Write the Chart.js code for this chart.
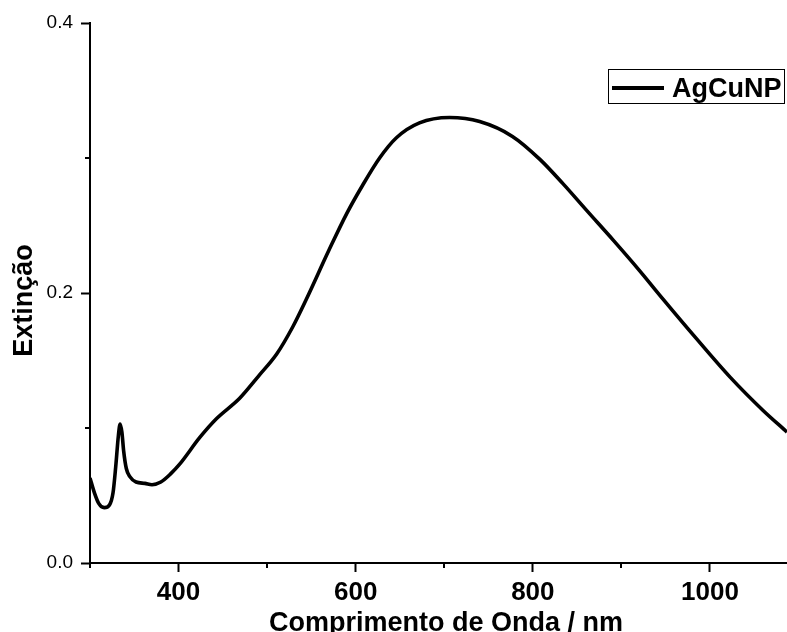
<!DOCTYPE html>
<html>
<head>
<meta charset="utf-8">
<script src="https://cdn.jsdelivr.net/npm/chart.js@4.4.1/dist/chart.umd.min.js"></script>
<style>
  html, body { margin: 0; padding: 0; background: #fff; }
  #wrap { width: 787px; height: 632px; }
</style>
</head>
<body>
<div id="wrap"><canvas id="c" width="787" height="632"></canvas></div>
<script>
// ---- data ----
const seriesLabel = 'AgCuNP';
const wavelength = [300, 305, 310, 316, 322, 326, 329, 332, 334, 336, 338, 341, 345, 352, 362, 370, 380, 391, 401, 424, 443, 469, 491, 511, 529, 544, 570, 590, 608, 627, 646, 672, 706, 740, 777, 808, 834, 861, 891, 920, 947, 985, 1023, 1060, 1087];
const extinction = [0.063, 0.052, 0.044, 0.041, 0.043, 0.052, 0.071, 0.094, 0.103, 0.097, 0.083, 0.070, 0.064, 0.060, 0.059, 0.058, 0.060, 0.066, 0.073, 0.093, 0.107, 0.122, 0.139, 0.155, 0.175, 0.195, 0.232, 0.259, 0.280, 0.300, 0.315, 0.326, 0.330, 0.327, 0.316, 0.299, 0.281, 0.261, 0.239, 0.217, 0.1955, 0.166, 0.1375, 0.113, 0.097];
const xMajorTicks = [400, 600, 800, 1000];
const xMinorTicks = [300, 500, 700, 900];
const yMajorTicks = [0.0, 0.2, 0.4];
const yMinorTicks = [0.1, 0.3];

const FONT = "'Liberation Sans', Arial, Helvetica, sans-serif";

const minorTicksPlugin = {
  id: 'minorTicks',
  afterDraw(chart) {
    const ctx = chart.ctx;
    const xs = chart.scales.x, ys = chart.scales.y;
    ctx.save();
    ctx.strokeStyle = '#000';
    ctx.lineWidth = 2;
    ctx.beginPath();
    xMinorTicks.forEach(v => {
      const px = Math.round(xs.getPixelForValue(v));
      ctx.moveTo(px, xs.top);
      ctx.lineTo(px, xs.top + 5);
    });
    yMinorTicks.forEach(v => {
      const py = Math.round(ys.getPixelForValue(v));
      ctx.moveTo(ys.right, py);
      ctx.lineTo(ys.right - 5, py);
    });
    ctx.stroke();
    ctx.restore();
  }
};

const legendBoxPlugin = {
  id: 'legendBox',
  afterDraw(chart) {
    const ctx = chart.ctx;
    const ds = chart.data.datasets[0];
    const ca = chart.chartArea;
    const boxRight = ca.right - 3, boxTop = ca.top + 46;
    const boxW = 176, boxH = 34;
    ctx.save();
    ctx.strokeStyle = '#000';
    ctx.lineWidth = 1;
    ctx.strokeRect(boxRight - boxW + 0.5, boxTop + 0.5, boxW, boxH);
    ctx.strokeStyle = ds.borderColor;
    ctx.lineWidth = 4;
    ctx.beginPath();
    ctx.moveTo(boxRight - boxW + 4, boxTop + 19);
    ctx.lineTo(boxRight - boxW + 56, boxTop + 19);
    ctx.stroke();
    ctx.fillStyle = '#000';
    ctx.font = "bold 27px " + FONT;
    ctx.textBaseline = 'alphabetic';
    ctx.textAlign = 'left';
    ctx.fillText(ds.label, boxRight - boxW + 64, boxTop + 28);
    ctx.restore();
  }
};

const points = wavelength.map((w, i) => ({ x: w, y: extinction[i] }));

new Chart(document.getElementById('c'), {
  type: 'line',
  data: {
    datasets: [{
      label: seriesLabel,
      data: points,
      borderColor: '#000',
      backgroundColor: '#000',
      borderWidth: 3.6,
      pointRadius: 0,
      cubicInterpolationMode: 'monotone',
      fill: false
    }]
  },
  options: {
    responsive: false,
    animation: false,
    layout: { padding: { top: 23, right: 0, left: 0, bottom: 0 } },
    plugins: { legend: { display: false }, tooltip: { enabled: false } },
    scales: {
      x: {
        type: 'linear',
        min: 300,
        max: 1087,
        afterBuildTicks: s => { s.ticks = xMajorTicks.map(v => ({ value: v })); },
        afterFit: s => { s.height = 69; },
        ticks: {
          font: { family: FONT, size: 26, weight: 'bold' },
          color: '#000',
          padding: 5,
          maxRotation: 0,
          autoSkip: false,
          callback: v => String(v)
        },
        grid: { drawOnChartArea: false, drawTicks: true, tickLength: 9, tickWidth: 2, tickColor: '#000' },
        border: { display: true, color: '#000', width: 2 },
        title: {
          display: true,
          text: '  Comprimento de Onda / nm',
          color: '#000',
          font: { family: FONT, size: 27, weight: 'bold', lineHeight: 0.62 },
          padding: 0
        }
      },
      y: {
        min: 0,
        max: 0.4,
        afterBuildTicks: s => { s.ticks = yMajorTicks.map(v => ({ value: v })); },
        afterFit: s => { s.width = 90; },
        ticks: {
          font: { family: FONT, size: 19 },
          color: '#000',
          padding: 8,
          callback: v => Number(v).toFixed(1)
        },
        grid: { drawOnChartArea: false, drawTicks: true, tickLength: 9, tickWidth: 2, tickColor: '#000' },
        border: { display: true, color: '#000', width: 2 },
        title: {
          display: true,
          text: 'Extinção  ',
          color: '#000',
          font: { family: FONT, size: 27, weight: 'bold', lineHeight: 1.2 },
          padding: { top: 8, bottom: 0 }
        }
      }
    }
  },
  plugins: [minorTicksPlugin, legendBoxPlugin]
});
</script>
</body>
</html>
